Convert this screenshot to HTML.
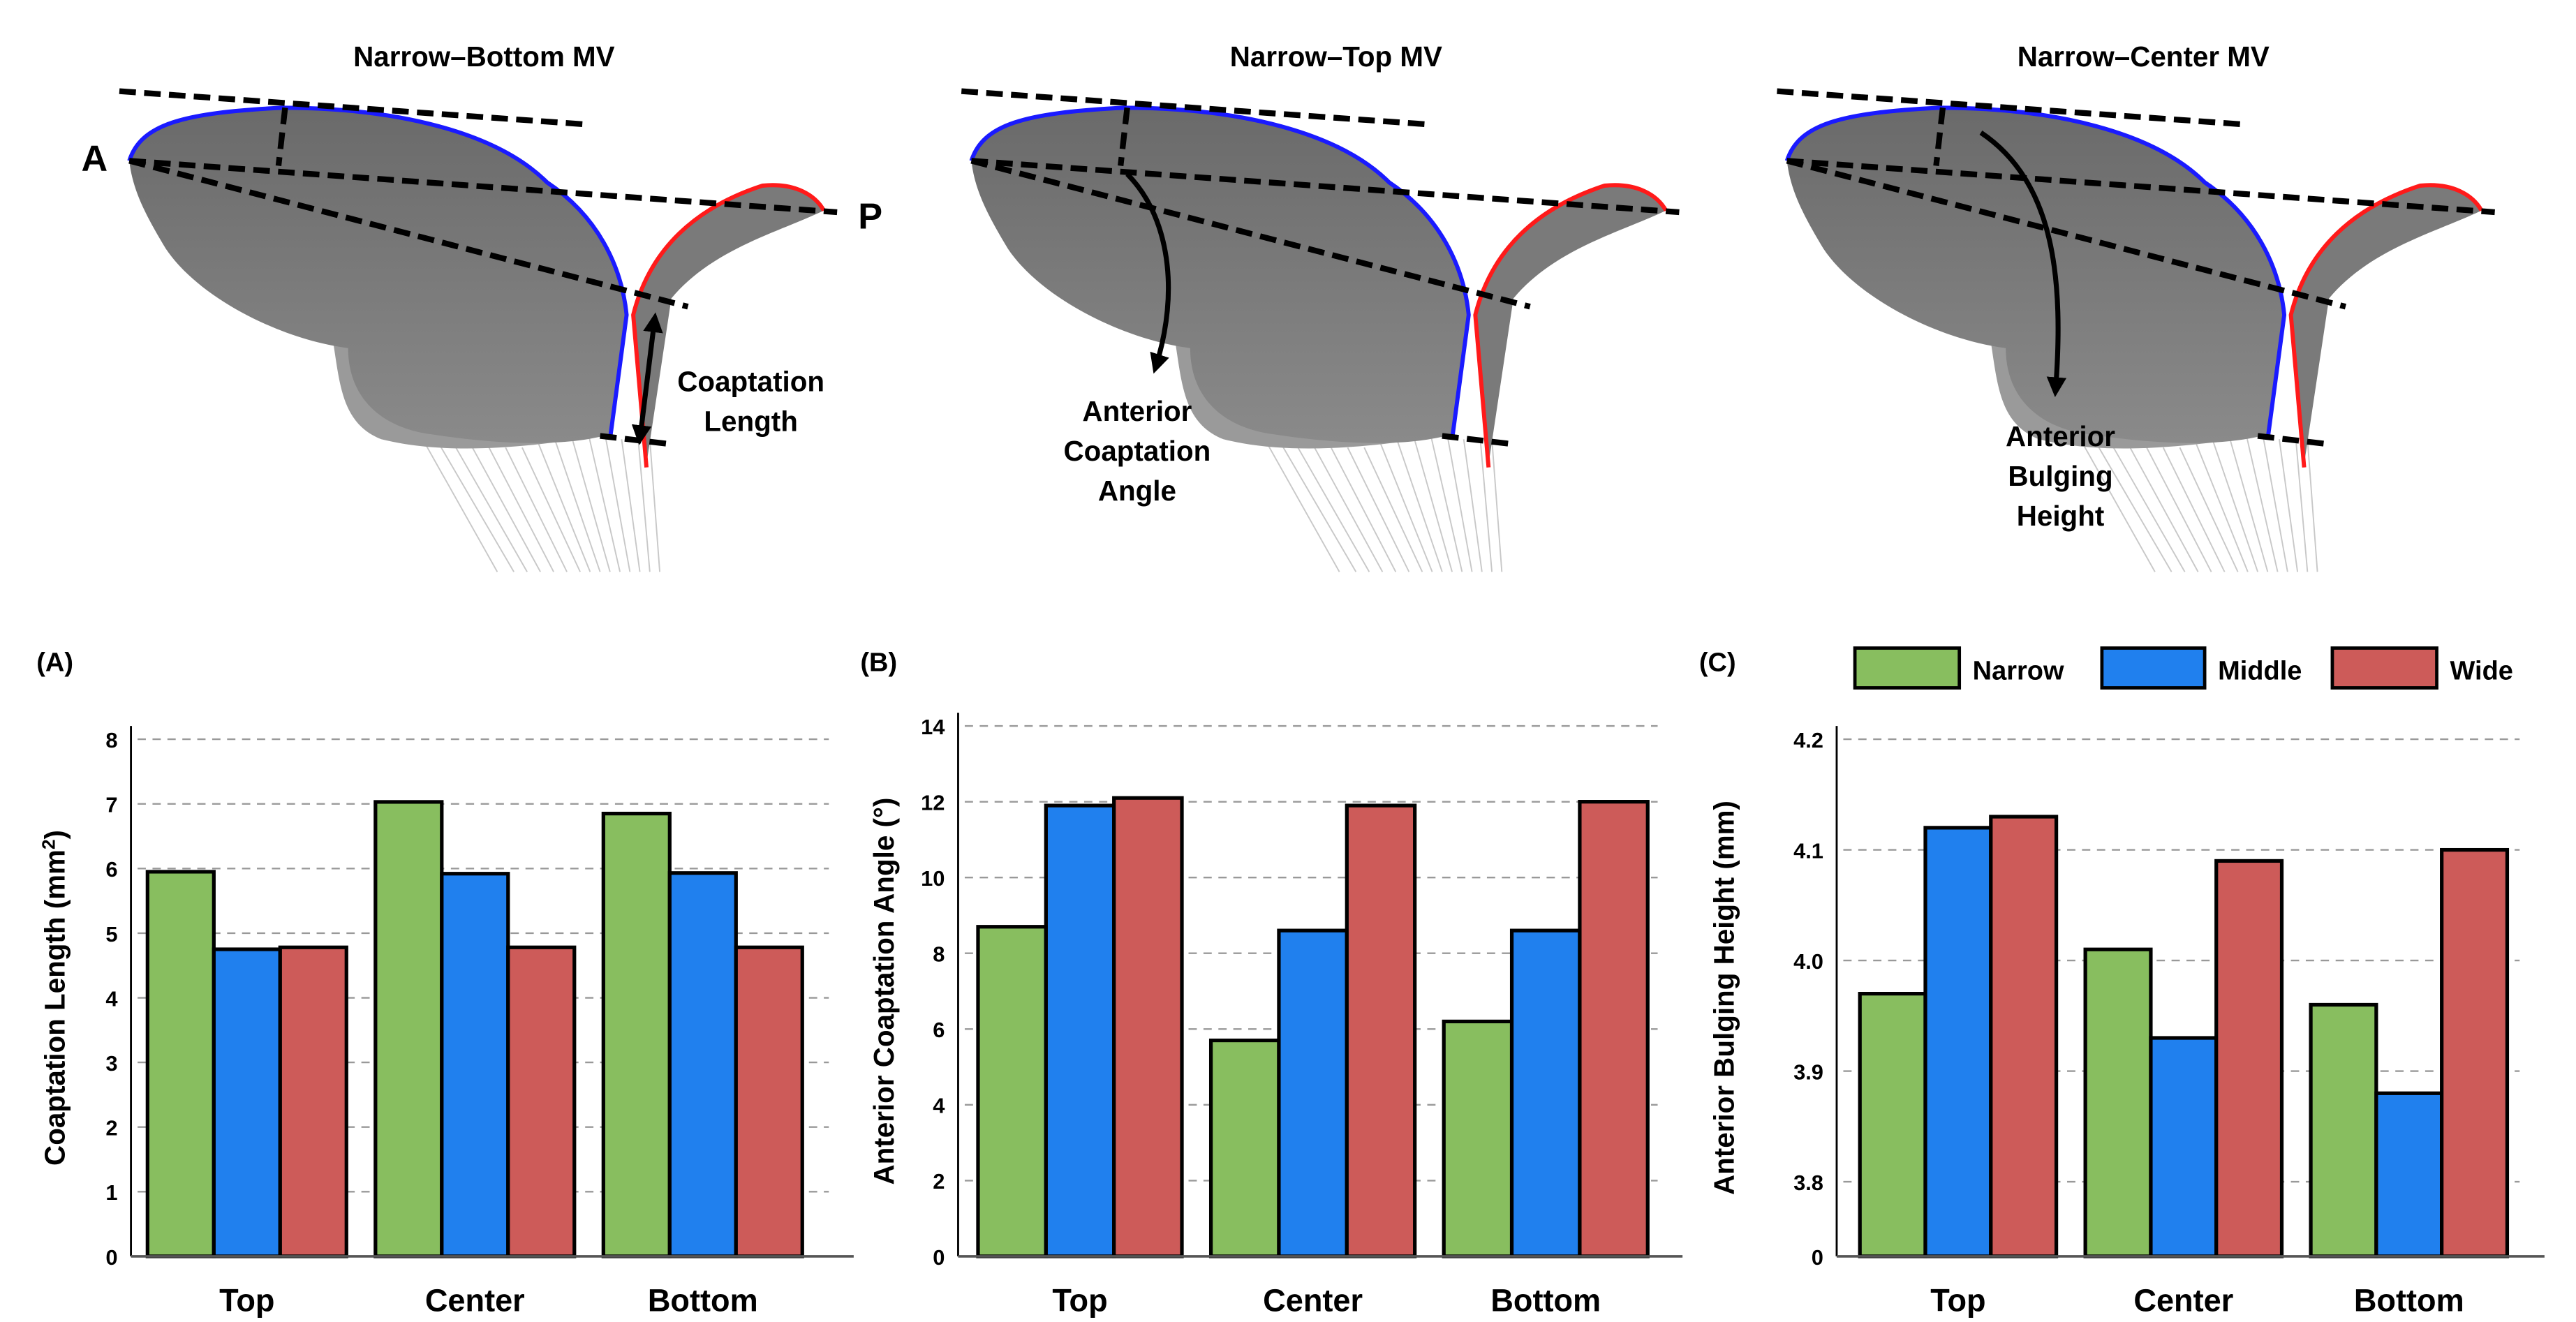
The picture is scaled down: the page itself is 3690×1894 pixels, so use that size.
<!DOCTYPE html>
<html><head><meta charset="utf-8">
<style>
html,body{margin:0;padding:0;background:#fff;}
svg{display:block;font-family:"Liberation Sans",Arial,sans-serif;}
</style></head>
<body>
<svg id="fig" width="3690" height="1894" viewBox="0 0 1554 797.6" xmlns="http://www.w3.org/2000/svg">
<defs>
<linearGradient id="lg" x1="0" y1="0" x2="0" y2="1">
<stop offset="0" stop-color="#6a6a6a"/><stop offset="1" stop-color="#8a8a8a"/>
</linearGradient>
<marker id="ah" viewBox="0 0 10 10" refX="7" refY="5" markerWidth="4" markerHeight="4" orient="auto-start-reverse"><path d="M0,0 L10,5 L0,10 z" fill="#000"/></marker>
</defs>

<g id="panel1">
 <g id="valve1">
  <g stroke="#c8c8c8" stroke-width="0.8" fill="none">
   <path d="M255,265 L300,345"/><path d="M265,268 L310,345"/><path d="M275,270 L318,345"/><path d="M285,270 L326,345"/><path d="M295,270 L334,345"/><path d="M305,270 L342,345"/><path d="M315,270 L350,345"/><path d="M325,268 L356,345"/><path d="M335,266 L362,345"/><path d="M345,264 L368,345"/><path d="M355,262 L374,345"/><path d="M365,262 L380,345"/><path d="M375,265 L386,345"/><path d="M385,265 L392,345"/><path d="M392,265 L398,345"/>
  </g>
  <path d="M200,200 C205,230 205,255 230,265 C270,275 320,270 368,262 L375,190 L250,175 Z" fill="#9a9a9a"/>
  <path d="M78,97 C85,75 110,68 170,65 C240,65 300,80 330,110 C360,130 375,160 378,190 L368,262 C340,270 300,268 260,262 C230,258 210,240 210,210 C170,205 120,180 100,150 C88,130 80,115 78,97 Z" fill="url(#lg)"/>
  <path d="M78,97 C85,75 110,68 170,65 C240,65 300,80 330,110 C360,130 375,160 378,190 L368,265" fill="none" stroke="#1a1aff" stroke-width="2.5"/>
  <path d="M382,190 C392,150 420,125 460,112 C480,110 492,118 497,127 C470,140 430,150 405,180 L390,280 Z" fill="#7a7a7a"/>
  <path d="M390,282 L382,190 C392,150 420,125 460,112 C480,110 492,118 497,127" fill="none" stroke="#ff1a1a" stroke-width="2.5"/>
  <g fill="none" stroke="#000" stroke-width="3.5" stroke-dasharray="10,5">
   <path d="M72,55 L353,75"/><path d="M78,97 L505,128"/><path d="M78,97 L415,185"/><path d="M172,65 L168,100"/><path d="M362,263 L405,268"/>
  </g>
 </g>
 <path d="M395,192 L386,265" stroke="#000" stroke-width="3" fill="none" marker-start="url(#ah)" marker-end="url(#ah)"/>
 <text x="292" y="40" text-anchor="middle" font-size="17" font-weight="bold">Narrow–Bottom MV</text>
 <text x="57" y="103" text-anchor="middle" font-size="22" font-weight="bold">A</text>
 <text x="525" y="138" text-anchor="middle" font-size="22" font-weight="bold">P</text>
 <text x="453" y="236" text-anchor="middle" font-size="17" font-weight="bold">Coaptation<tspan x="453" dy="24">Length</tspan></text>
</g>

<g id="panel2">
 <use href="#valve1" transform="translate(508,0)"/>
 <path d="M680,105 C705,130 712,175 697,222" stroke="#000" stroke-width="3" fill="none" marker-end="url(#ah)"/>
 <text x="806" y="40" text-anchor="middle" font-size="17" font-weight="bold">Narrow–Top MV</text>
 <text x="686" y="254" text-anchor="middle" font-size="17" font-weight="bold">Anterior<tspan x="686" dy="24">Coaptation</tspan><tspan x="686" dy="24">Angle</tspan></text>
</g>

<g id="panel3">
 <use href="#valve1" transform="translate(1000,0)"/>
 <path d="M1195,80 C1240,110 1245,170 1240,236" stroke="#000" stroke-width="3" fill="none" marker-end="url(#ah)"/>
 <text x="1293" y="40" text-anchor="middle" font-size="17" font-weight="bold">Narrow–Center MV</text>
 <text x="1243" y="269" text-anchor="middle" font-size="17" font-weight="bold">Anterior<tspan x="1243" dy="24">Bulging</tspan><tspan x="1243" dy="24">Height</tspan></text>
</g>

<g>
 <rect x="1119" y="391" width="63" height="24" fill="#88BE5F" stroke="#000" stroke-width="2"/>
 <text x="1190" y="410" font-size="16" font-weight="bold">Narrow</text>
 <rect x="1268" y="391" width="62" height="24" fill="#2080EE" stroke="#000" stroke-width="2"/>
 <text x="1338" y="410" font-size="16" font-weight="bold">Middle</text>
 <rect x="1407" y="391" width="63" height="24" fill="#CD5B59" stroke="#000" stroke-width="2"/>
 <text x="1478" y="410" font-size="16" font-weight="bold">Wide</text>
</g>
</svg>

<script>
const categories = ["Top", "Center", "Bottom"];
const seriesNames = ["Narrow", "Middle", "Wide"];
const aNarrow = [5.95, 7.03, 6.85];
const aMiddle = [4.75, 5.92, 5.93];
const aWide = [4.78, 4.78, 4.78];
const aTicks = [0, 1, 2, 3, 4, 5, 6, 7, 8];
const bNarrow = [8.7, 5.7, 6.2];
const bMiddle = [11.9, 8.6, 8.6];
const bWide = [12.1, 11.9, 12.0];
const bTicks = [0, 2, 4, 6, 8, 10, 12, 14];
const cNarrow = [3.97, 4.01, 3.96];
const cMiddle = [4.12, 3.93, 3.88];
const cWide = [4.13, 4.09, 4.10];
const cTicks = ["0", "3.8", "3.9", "4.0", "4.1", "4.2"];

const colors = ["#88BE5F", "#2080EE", "#CD5B59"];
const NS = "http://www.w3.org/2000/svg";
const svg = document.getElementById("fig");

function mk(tag, attrs, parent) {
  const e = document.createElementNS(NS, tag);
  for (const k in attrs) e.setAttribute(k, attrs[k]);
  parent.appendChild(e);
  return e;
}

function drawChart(cfg) {
  const g = mk("g", {}, svg);
  
  
  // gridlines + ticks
  cfg.ticks.forEach(t => {
    const v = parseFloat(t);
    const y = cfg.yMap(v);
    if (v !== 0) {
      const gl = mk("line", {x1: cfg.x0 + 4, x2: cfg.x1, y1: y, y2: y, stroke: "#999", "stroke-width": 1, "stroke-dasharray": "5,4"}, g);
      
      
    }
    const tl = mk("text", {x: cfg.x0 - 8, y: y + 5, "text-anchor": "end", "font-size": 13, "font-weight": "bold"}, g);
    tl.textContent = t;
    
    
  });
  // bars
  const series = [cfg.s0, cfg.s1, cfg.s2];
  categories.forEach((c, ci) => {
    const gx = cfg.first + ci * cfg.step;
    series.forEach((arr, si) => {
      const y = cfg.yMap(arr[ci]);
      const r = mk("rect", {x: gx + si * cfg.bw, y: y, width: cfg.bw, height: cfg.zero - y, fill: colors[si], stroke: "#000", "stroke-width": 2.2}, g);
      
      
    });
    const cl = mk("text", {x: gx + 1.5 * cfg.bw, y: cfg.zero + 33, "text-anchor": "middle", "font-size": 19, "font-weight": "bold"}, g);
    cl.textContent = c;
    
    
  });
  // axes
  const ya = mk("line", {x1: cfg.x0, x2: cfg.x0, y1: cfg.top - 8, y2: cfg.zero, stroke: "#000", "stroke-width": 1.2}, g);
  
  
  const xa = mk("line", {x1: cfg.x0, x2: cfg.x1 + 15, y1: cfg.zero, y2: cfg.zero, stroke: "#555", "stroke-width": 1.5}, g);
  
  
  const yt = mk("text", {x: 0, y: 0, transform: "translate(" + cfg.titleX + "," + ((cfg.top + cfg.zero) / 2) + ") rotate(-90)", "text-anchor": "middle", "font-size": 17, "font-weight": "bold"}, g);
  yt.innerHTML = cfg.title;
  
  
  const pl = mk("text", {x: cfg.labelX, y: 405, "font-size": 16, "font-weight": "bold"}, g);
  pl.textContent = cfg.label;
  
  
}

const zero = 758;
drawChart({name: "chart-a-coaptation-length", s0: aNarrow, s1: aMiddle, s2: aWide, ticks: aTicks.map(String),
  yMap: v => zero - (v / 8) * (zero - 446), zero: zero, top: 446, x0: 79, x1: 500, first: 89, step: 137.5, bw: 40,
  title: 'Coaptation Length (mm<tspan dy="-6" font-size="11">2</tspan><tspan dy="6">)</tspan>', titleX: 39, label: "(A)", labelX: 22});
drawChart({name: "chart-b-anterior-coaptation-angle", s0: bNarrow, s1: bMiddle, s2: bWide, ticks: bTicks.map(String),
  yMap: v => zero - (v / 14) * (zero - 438), zero: zero, top: 438, x0: 578, x1: 1000, first: 590, step: 140.5, bw: 41,
  title: 'Anterior Coaptation Angle (°)', titleX: 539, label: "(B)", labelX: 519});
drawChart({name: "chart-c-anterior-bulging-height", s0: cNarrow, s1: cMiddle, s2: cWide, ticks: cTicks,
  yMap: v => v < 3.8 ? zero - (v / 3.8) * 45 : 713 - (v - 3.8) / 0.1 * 66.75, zero: zero, top: 446, x0: 1108, x1: 1520, first: 1122, step: 136, bw: 39.5,
  title: 'Anterior Bulging Height (mm)', titleX: 1046, label: "(C)", labelX: 1025});
</script>
</body></html>
